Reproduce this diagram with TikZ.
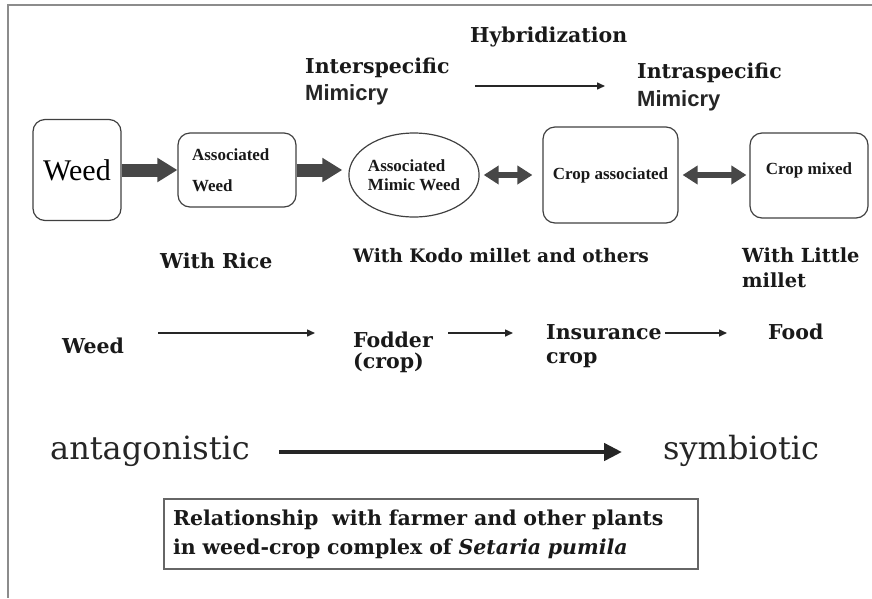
\documentclass[tikz,border=0pt]{standalone}
\usepackage{fontspec}
\setmainfont{DejaVu Serif}
\newfontfamily\tms{Liberation Serif}
\newfontfamily\arl{Liberation Sans}
\usetikzlibrary{arrows.meta,shapes.geometric}

\newcommand{\LS}{20.5}
\newcommand{\BS}{17}

\begin{document}
\begin{tikzpicture}[x=1pt,y=-1pt,
        lbl/.style={font=\bfseries\fontsize{\LS}{24}\selectfont, anchor=base west, inner sep=0pt, text=black!90},
        sanslbl/.style={font=\arl\bfseries\fontsize{22}{24}\selectfont, anchor=base west, inner sep=0pt, text=black!85},
        bigtxt/.style={font=\fontsize{32}{34}\selectfont, anchor=base west, inner sep=0pt, text=black!85},
        box/.style={draw=black!75, line width=1.2pt, rounded corners=12pt, inner sep=0pt},
        boxtxt/.style={font=\tms\bfseries\fontsize{\BS}{19}\selectfont, text=black!90},
        flow/.style={draw=black!85, line width=1.5pt, -{Triangle[length=8pt,width=7pt]}},
        blockarrow/.style={draw=black!72, line width=13pt, -{Triangle[length=20pt,width=23pt]}},
        dblarrow/.style={draw=black!72, line width=6pt, {Triangle[length=15pt,width=18pt]}-{Triangle[length=15pt,width=18pt]}},
        bigarrow/.style={draw=black!85, line width=4.5pt, -{Triangle[length=18pt,width=17pt]}}]
        \useasboundingbox (0,0) rectangle (872,598);
        \draw [black!45,line width=1.5pt] (872,5) -- (8,5) -- (8,598);

        % mimicry
        \path (470,42) node[lbl] (hyb) {Hybridization};
        \path (305,73) node[lbl] (inter) {Interspecific};
        \path (305,100) node[sanslbl] (interM) {Mimicry};
        \path (637,78) node[lbl] (intra) {Intraspecific};
        \path (637,106) node[sanslbl] (intraM) {Mimicry};
        \path (0,86) coordinate (H);
        \draw [flow,shorten <=25pt,shorten >=32pt] (inter.east |- H) -- (intra.west |- H);

        % stages
        \node[box,minimum width=88pt,minimum height=101pt,font=\tms\fontsize{30}{30}\selectfont] (weed) at (77,170) {Weed};
        \node[box,boxtxt,align=left,text width=90pt,inner xsep=14pt,minimum width=118pt,minimum height=74pt,font=\tms\bfseries\fontsize{\BS}{31}\selectfont] (assoc) at (237,170) {Associated\\Weed};
        \node[draw=black!75,line width=1.2pt,ellipse,inner sep=0pt,boxtxt,align=left,minimum width=126pt,minimum height=84pt] (mimic) at (414,175) {Associated\\Mimic Weed};
        \node[box,boxtxt,minimum width=135pt,minimum height=96pt] (cropassoc) at (610.5,175) {Crop associated};
        \node[box,boxtxt,minimum width=118pt,minimum height=85pt,text depth=13.5pt] (cropmix) at (809,175.5) {Crop mixed};

        \draw [blockarrow] (weed.east) -- (weed.east -| assoc.west);
        \draw [blockarrow,shorten >=6pt] (assoc.east) -- (assoc.east -| mimic.west);
        \draw [dblarrow,shorten <=4pt,shorten >=10pt] (mimic.east) -- (mimic.east -| cropassoc.west);
        \draw [dblarrow,shorten <=4pt,shorten >=3pt] (cropassoc.east) -- (cropassoc.east -| cropmix.west);

        \path (160,268) node[lbl] (rice) {With Rice};
        \path (353,262) node[lbl,font=\bfseries\fontsize{18.6}{22}\selectfont] (kodo) {With Kodo millet and others};
        \path (742,262) node[lbl,font=\bfseries\fontsize{19.4}{22}\selectfont] (little) {With Little};
        \path (742,287) node[lbl,font=\bfseries\fontsize{19.4}{22}\selectfont] (little2) {millet};

        % use
        \path (62,353) node[lbl] (weedB) {Weed};
        \path (353,347) node[lbl] (fodder) {Fodder};
        \path (353,368) node[lbl] (fodder2) {(crop)};
        \path (546,339) node[lbl] (insur) {Insurance};
        \path (546,363) node[lbl] (insur2) {crop};
        \path (768,339) node[lbl] (food) {Food};
        \path (0,333) coordinate (U);
        \draw [flow,shorten <=34pt,shorten >=38pt] (weedB.east |- U) -- (fodder.west |- U);
        \draw [flow,shorten <=15pt,shorten >=33pt] (fodder.east |- U) -- (insur.west |- U);
        \draw [flow,shorten <=3pt,shorten >=41pt] (insur.east |- U) -- (food.west |- U);

        % relationship
        \path (50,459) node[bigtxt] (antag) {antagonistic};
        \path (663,459) node[bigtxt] (symb) {symbiotic};
        \path (0,452) coordinate (R);
        \draw [bigarrow,shorten <=29pt,shorten >=41pt] (antag.east |- R) -- (symb.west |- R);

        \node[draw=black!60,line width=1.2pt,minimum width=534pt,minimum height=70pt,text width=516pt,inner xsep=9pt,align=left,
            font=\bfseries\fontsize{\LS}{29}\selectfont,text=black!90] (cap) at (431,534)
            {Relationship~ with farmer and other plants\\in weed-crop complex of \textit{Setaria pumila}};
    \end{tikzpicture}
\end{document}
